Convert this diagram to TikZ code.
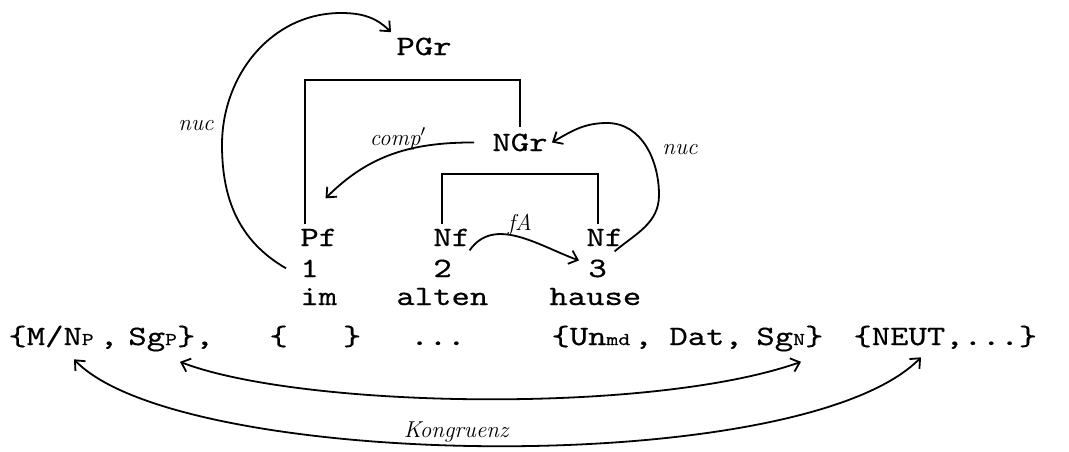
\documentclass[tikz,border=0pt]{standalone}
\usepackage{fontspec}
\setmonofont{lmmono10-regular.otf}[FakeStretch=1.25,FakeBold=0.5]
\usetikzlibrary{arrows.meta}
\newcommand{\smsub}[1]{{\fontsize{9}{9}\selectfont #1}}

\begin{document}
\begin{tikzpicture}[x=0.5pt,y=0.5pt,
  tw/.style={anchor=base west,inner sep=0pt,font=\ttfamily\fontsize{14}{16}\selectfont},
  hw/.style={inner sep=0pt,font=\itshape\fontsize{11.5}{13}\selectfont},
  br/.style={line width=1.1pt},
  hk/.style={-{Straight Barb[length=4pt,width=7pt]},line width=0.9pt},
  kg/.style={{Straight Barb[length=4pt,width=7pt]}-{Straight Barb[length=4pt,width=7pt]},line width=0.9pt}]
\useasboundingbox (0,0) rectangle (1069,-451);

% --- tree ---
\node[tw] (pgr)   at (396,-55)  {PGr};
\node[tw] (ngr)   at (492,-151) {NGr};
\node[tw] (pf)    at (300,-246) {Pf};
\node[tw] (nfa)   at (433,-246) {Nf};
\node[tw] (nfb)   at (586,-246) {Nf};
\node[tw] (one)   at (300,-277) {1};
\node[tw] (two)   at (433,-277) {2};
\node[tw] (three) at (588,-277) {3};
\node[tw] (im)    at (300,-305) {im};
\node[tw] (alten) at (396,-305) {alten};
\node[tw] (hause) at (549,-305) {hause};

\draw[br] ([xshift=2.5pt,yshift=2pt]pf.north west) -- ++(0,144) -| ([yshift=3pt]ngr.north);
\draw[br] ([xshift=4.5pt,yshift=2pt]nfa.north west) -- ++(0,50) -| ([xshift=6pt,yshift=2pt]nfb.north west);

% --- features ---
\node[tw] (mnp)  at (8,-345)   {\{M/N\smsub{P}\hspace{3pt},};
\node[tw] (sgp)  at (128,-345) {Sg\smsub{P}\},};
\node[tw] (emp)  at (269,-345) {\{\ \ \ \}};
\node[tw] (dots) at (410,-345) {...};
\node[tw] (unmd) at (551,-345) {\{Un\smsub{md}\hspace{2pt},};
\node[tw] (dat)  at (669,-345) {Dat,};
\node[tw] (sgn)  at (756,-345) {Sg\smsub{N}\}};
\node[tw] (neut) at (853,-345) {\{NEUT,...\}};

% --- hand-drawn relations ---
\draw[hk] ([xshift=-7pt]one.west) to[out=150,in=-90] (222,-145)
  to[out=90,in=180] (341,-13) to[out=0,in=135] ([xshift=-2.5pt,yshift=2.5pt]pgr.north west);
\node[hw] (nucl) at (196,-126) {nuc};

\draw[hk] ([xshift=-9pt]ngr.west) to[out=180,in=45] ([xshift=-6pt,yshift=15pt]pf.north east);
\node[hw] (compl) at (398,-139) {comp$'$};

\draw[hk] ([xshift=-4.5pt,yshift=-2.5pt]nfb.south east) to[out=40,in=-90] (659,-195)
  to[out=90,in=0] (607,-123) to[out=180,in=30] ([xshift=2pt]ngr.east);
\node[hw] (nucr) at (680,-150) {nuc};

\draw[hk] ([xshift=-0.5pt,yshift=-2pt]nfa.south east) to[out=55,in=160] ([xshift=-4.5pt,yshift=4pt]three.west);
\node[hw] (fal) at (520,-225) {fA};

\coordinate (mnptip)  at ([xshift=33pt,yshift=-5pt]mnp.south west);
\coordinate (sgptip)  at ([xshift=26pt,yshift=-5pt]sgp.south west);
\coordinate (sgntip)  at ([xshift=22.5pt,yshift=-5pt]sgn.south west);
\coordinate (neuttip) at ([xshift=34pt,yshift=-4pt]neut.south west);
\draw[kg] (sgptip) .. controls (300,-408) and (650,-415) .. (sgntip);
\draw[kg] (mnptip) .. controls (180,-470) and (800,-480) .. (neuttip);
\node[hw] (kongl) at (456,-432) {Kongruenz};
\end{tikzpicture}
\end{document}
